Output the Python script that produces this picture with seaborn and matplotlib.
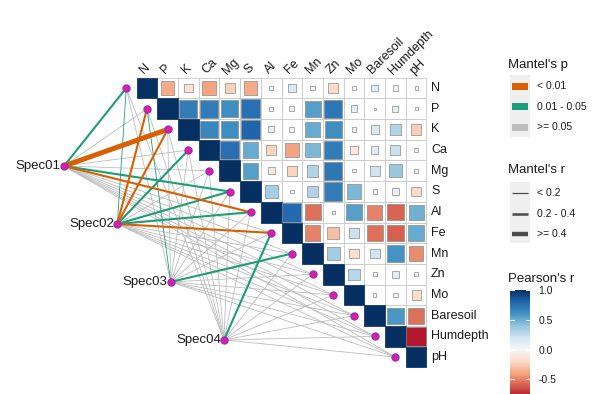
import numpy as np
import pandas as pd
import matplotlib
matplotlib.use("Agg")
import matplotlib.pyplot as plt
from matplotlib.patches import Rectangle
import matplotlib.colors as mcolors
import matplotlib.cm as cm
import seaborn as sns

# ---------------- data ----------------
env_vars = ["N", "P", "K", "Ca", "Mg", "S", "Al", "Fe", "Mn", "Zn", "Mo",
            "Baresoil", "Humdepth", "pH"]
spec_names = ["Spec01", "Spec02", "Spec03", "Spec04"]

# Pearson's r, upper triangle (row variable vs the following columns)
corr_N = [-0.38, -0.15, -0.40, -0.24, -0.38, 0.03, 0.15, -0.05, -0.20, 0.03, 0.10, 0.06, -0.02]
corr_P = [0.70, 0.70, 0.62, 0.75, 0.03, 0.05, 0.55, 0.72, 0.10, 0.01, 0.08, -0.02]
corr_K = [0.65, 0.62, 0.80, 0.08, 0.05, 0.50, 0.62, 0.04, 0.15, 0.30, -0.25]
corr_Ca = [0.75, 0.50, -0.22, -0.40, 0.45, 0.70, -0.12, 0.12, 0.22, 0.04]
corr_Mg = [0.55, -0.10, -0.22, 0.30, 0.72, 0.02, 0.20, 0.38, 0.04]
corr_S = [0.35, 0.03, 0.30, 0.70, 0.45, 0.04, 0.10, -0.20]
corr_Al = [0.78, -0.55, 0.02, 0.55, -0.50, -0.58, 0.48]
corr_Fe = [-0.50, -0.30, 0.22, -0.55, -0.60, 0.50]
corr_Mn = [0.35, -0.18, 0.20, 0.60, -0.47]
corr_Zn = [0.28, 0.03, 0.10, 0.04]
corr_Mo = [0.02, 0.04, -0.18]
corr_Baresoil = [0.58, -0.55]
corr_Humdepth = [-0.80]
corr_rows = [corr_N, corr_P, corr_K, corr_Ca, corr_Mg, corr_S, corr_Al, corr_Fe,
             corr_Mn, corr_Zn, corr_Mo, corr_Baresoil, corr_Humdepth, []]

# Mantel test results (species table vs each environmental variable)
mantel_r_spec01 = [0.25, 0.10, 0.45, 0.10, 0.10, 0.25, 0.25, 0.10, 0.05, 0.05, 0.05, 0.05, 0.05, 0.05]
mantel_p_spec01 = [0.03, 0.30, 0.005, 0.20, 0.30, 0.02, 0.008, 0.20, 0.50, 0.40, 0.50, 0.40, 0.60, 0.50]
mantel_r_spec02 = [0.15, 0.30, 0.30, 0.25, 0.10, 0.25, 0.25, 0.30, 0.05, 0.05, 0.05, 0.05, 0.05, 0.05]
mantel_p_spec02 = [0.04, 0.006, 0.004, 0.02, 0.20, 0.03, 0.02, 0.005, 0.50, 0.40, 0.50, 0.40, 0.60, 0.50]
mantel_r_spec03 = [0.05, 0.15, 0.05, 0.05, 0.05, 0.05, 0.05, 0.10, 0.25, 0.05, 0.05, 0.05, 0.05, 0.05]
mantel_p_spec03 = [0.50, 0.04, 0.40, 0.50, 0.40, 0.60, 0.50, 0.20, 0.03, 0.50, 0.40, 0.60, 0.50, 0.40]
mantel_r_spec04 = [0.05, 0.05, 0.05, 0.05, 0.05, 0.05, 0.10, 0.25, 0.05, 0.05, 0.05, 0.05, 0.05, 0.05]
mantel_p_spec04 = [0.50, 0.40, 0.50, 0.60, 0.40, 0.50, 0.20, 0.02, 0.40, 0.50, 0.60, 0.40, 0.50, 0.50]
mantel_r = [mantel_r_spec01, mantel_r_spec02, mantel_r_spec03, mantel_r_spec04]
mantel_p = [mantel_p_spec01, mantel_p_spec02, mantel_p_spec03, mantel_p_spec04]

p_labels = ["< 0.01", "0.01 - 0.05", ">= 0.05"]
r_labels = ["< 0.2", "0.2 - 0.4", ">= 0.4"]
cbar_ticks = [1.0, 0.5, 0.0, -0.5]

# ---------------- styling ----------------
sns.set_theme(style="white")
plt.rcParams["font.family"] = ["Liberation Sans", "DejaVu Sans"]

P_COLORS = ["#D95F02", "#1B9E77", "#BDBDBD"]
R_WIDTHS = [0.6, 1.5, 3.6]
cmap = plt.get_cmap("RdBu")
norm = mcolors.Normalize(-1, 1)

W, H = 600, 394
fig = plt.figure(figsize=(W / 100, H / 100), dpi=100)
fig.patch.set_facecolor("white")

CELL = 20.7
X0, Y0 = 147, 88  # pixel centre of cell (0, 0)
ax = fig.add_axes([0, 0, 1, 1])
ax.set_xlim((0 - X0) / CELL, (W - X0) / CELL)
ax.set_ylim((H - Y0) / CELL, (0 - Y0) / CELL)
ax.axis("off")

n = len(env_vars)
rows, cols, vals = [], [], []
for i in range(n):
    rows.append(i); cols.append(i); vals.append(1.0)
    for k, v in enumerate(corr_rows[i]):
        rows.append(i); cols.append(i + 1 + k); vals.append(v)
cor_df = pd.DataFrame({"row": rows, "col": cols, "r": vals})

# cell backgrounds
for _, c in cor_df.iterrows():
    ax.add_patch(Rectangle((c.col - 0.5, c.row - 0.5), 1, 1, facecolor="white",
                           edgecolor="#C8C8C8", linewidth=0.6, zorder=1))
# squares
for _, c in cor_df.iterrows():
    side = min(1.0, np.sqrt(abs(c.r)) * 1.04)
    ax.add_patch(Rectangle((c.col - side / 2, c.row - side / 2), side, side,
                           facecolor=cmap(norm(c.r)),
                           edgecolor="#8A8A8A" if c.row != c.col else cmap(norm(c.r)),
                           linewidth=0.5, zorder=2))

# labels
for j, name in enumerate(env_vars):
    ax.text(j - 0.02, -0.55, name, rotation=45, rotation_mode="anchor",
            ha="left", va="bottom", fontsize=9, color="#1A1A1A")
    ax.text(n - 0.5 + 0.22, j, name, ha="left", va="center", fontsize=9, color="#1A1A1A")

# node positions
env_x = np.arange(n) - 1.0
env_y = np.arange(n) * 1.0
spec_x = np.linspace(-4.01, 3.72, len(spec_names))
spec_y = np.linspace(3.77, 12.17, len(spec_names))

def p_cat(p):
    return 0 if p < 0.01 else (1 if p < 0.05 else 2)

def r_cat(r):
    return 0 if r < 0.2 else (1 if r < 0.4 else 2)

edges = []
for s in range(len(spec_names)):
    for e in range(n):
        edges.append((s, e, p_cat(mantel_p[s][e]), r_cat(mantel_r[s][e])))
edges.sort(key=lambda t: (-t[2], t[3]))
for s, e, pc, rc in edges:
    ax.plot([spec_x[s], env_x[e]], [spec_y[s], env_y[e]], color=P_COLORS[pc],
            linewidth=R_WIDTHS[rc], solid_capstyle="butt",
            zorder=3 if pc == 2 else 4)

nodes = pd.DataFrame({"x": np.concatenate([env_x, spec_x]),
                      "y": np.concatenate([env_y, spec_y])})
sns.scatterplot(data=nodes, x="x", y="y", ax=ax, s=26, color="#E3208A",
                edgecolor="#8A2BE2", linewidth=0.9, zorder=6, legend=False)
ax.set_xlim((0 - X0) / CELL, (W - X0) / CELL)
ax.set_ylim((H - Y0) / CELL, (0 - Y0) / CELL)
for s, name in enumerate(spec_names):
    ax.text(spec_x[s] - 0.15, spec_y[s], name, ha="right", va="center",
            fontsize=9.5, color="#1A1A1A")

# ---------------- legends (pixel overlay) ----------------
lg = fig.add_axes([0, 0, 1, 1], facecolor="none")
lg.set_xlim(0, W)
lg.set_ylim(H, 0)
lg.axis("off")

lg.text(508, 68, "Mantel's p", fontsize=9.5, va="baseline", ha="left", color="#1A1A1A")
lg.add_patch(Rectangle((510, 75), 20, 62, facecolor="#EFEFEF", edgecolor="none"))
for k, (lab, col) in enumerate(zip(p_labels, P_COLORS)):
    yc = 86 + k * 20.7
    lg.add_patch(Rectangle((512, yc - 3.5), 16, 7, facecolor=col, edgecolor="none"))
    lg.text(537, yc, lab, fontsize=7.5, va="center", ha="left", color="#1A1A1A")

lg.text(508, 173, "Mantel's r", fontsize=9.5, va="baseline", ha="left", color="#1A1A1A")
lg.add_patch(Rectangle((510, 182), 20, 61, facecolor="#EFEFEF", edgecolor="none"))
for k, (lab, lw) in enumerate(zip(r_labels, [0.9, 1.8, 3.2])):
    yc = 193 + k * 20.5
    lg.plot([512, 528], [yc, yc], color="#4A4A4A", linewidth=lw, solid_capstyle="butt")
    lg.text(537, yc, lab, fontsize=7.5, va="center", ha="left", color="#1A1A1A")

lg.text(508, 282, "Pearson's r", fontsize=9.5, va="baseline", ha="left", color="#1A1A1A")

cax = fig.add_axes([510 / W, 1 - 409 / H, 20 / W, 119 / H])
cb = fig.colorbar(cm.ScalarMappable(norm=norm, cmap=cmap), cax=cax)
cb.outline.set_visible(False)
cb.set_ticks(cbar_ticks)
cb.set_ticklabels([f"{t:.1f}" for t in cbar_ticks])
cax.tick_params(axis="y", length=0, labelsize=7.5, pad=6, labelcolor="#1A1A1A")
for t in cbar_ticks:
    cax.plot([0, 0.18], [t, t], color="white", linewidth=0.8, transform=cax.get_yaxis_transform())
    cax.plot([0.82, 1], [t, t], color="white", linewidth=0.8, transform=cax.get_yaxis_transform())

fig.savefig("out.png", dpi=100, facecolor="white")
